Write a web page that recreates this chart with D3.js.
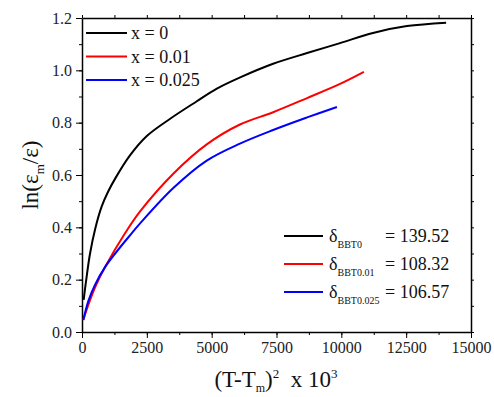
<!DOCTYPE html>
<html>
<head>
<meta charset="utf-8">
<script src="https://cdn.jsdelivr.net/npm/d3@7"></script>
<style>
   body { margin: 0; background: #fff; }
   svg text { font-family: "Liberation Serif", "Times New Roman", "DejaVu Serif", serif; }
</style>
</head>
<body>
<div id="chart"></div>
<script>
// Series values: [x, ln(em/e)]
const seriesNames = ["x = 0", "x = 0.01", "x = 0.025"]
const seriesColors = ["#000000", "#ff0000", "#0000ff"]

const blackData = [[64,0.123],[150,0.19],[310,0.30],[510,0.395],[760,0.48],[1000,0.535],[1300,0.59],
   [1850,0.675],[2500,0.749],[3400,0.815],[4400,0.880],[5200,0.93],[6100,0.973],[7370,1.025],
   [8680,1.066],[9950,1.104],[11220,1.143],[12530,1.169],[14040,1.182]]
const redData = [[50,0.046],[250,0.105],[500,0.17],[900,0.25],[1670,0.379],[2240,0.461],[3520,0.605],
   [4810,0.717],[6090,0.793],[7370,0.840],[8680,0.894],[9950,0.948],[10870,0.994]]
const blueData = [[50,0.046],[250,0.12],[500,0.18],[900,0.25],[1930,0.379],[2240,0.415],[3520,0.55],
   [4810,0.655],[6090,0.72],[7370,0.772],[8680,0.82],[9830,0.86]]
const allSeries = [blackData, redData, blueData]

const deltaSubs = ["BBT0", "BBT0.01", "BBT0.025"]
const deltaValues = ["= 139.52", "= 108.32", "= 106.57"]

const xTicks = [0, 2500, 5000, 7500, 10000, 12500, 15000]
const yTicks = [0.0, 0.2, 0.4, 0.6, 0.8, 1.0, 1.2]

const serif = "'Liberation Serif', 'Times New Roman', 'DejaVu Serif', serif"
const width = 494, height = 397
const margin = {left: 82, right: 23, top: 18, bottom: 65}

const svg = d3.select("#chart").append("svg")
   .attr("width", width)
   .attr("height", height)

const x = d3.scaleLinear().domain([0, 15000]).range([margin.left, width - margin.right])
const y = d3.scaleLinear().domain([0, 1.2]).range([height - margin.bottom, margin.top])

const minorX = d3.range(0, 15001, 1250)
const minorY = d3.range(0, 1.21, 0.1)

// bottom axis
svg.append("g")
   .attr("transform", "translate(0," + y(0) + ")")
   .call(d3.axisBottom(x).tickValues(xTicks).tickSize(6).tickSizeOuter(0).tickPadding(4).tickFormat(d3.format("d")))
   .call(g => g.selectAll("text").attr("font-size", 16).style("font-family", serif).attr("fill", "#222"))
svg.append("g")
   .attr("transform", "translate(0," + y(0) + ")")
   .call(d3.axisBottom(x).tickValues(minorX).tickSize(3).tickFormat(""))
   .call(g => g.select(".domain").remove())

// left axis
svg.append("g")
   .attr("transform", "translate(" + x(0) + ",0)")
   .call(d3.axisLeft(y).tickValues(yTicks).tickSize(6).tickSizeOuter(0).tickPadding(4).tickFormat(d3.format(".1f")))
   .call(g => g.selectAll("text").attr("font-size", 16).style("font-family", serif).attr("fill", "#222"))
svg.append("g")
   .attr("transform", "translate(" + x(0) + ",0)")
   .call(d3.axisLeft(y).tickValues(minorY).tickSize(3).tickFormat(""))
   .call(g => g.select(".domain").remove())

// top and right axes, ticks only
svg.append("g")
   .attr("transform", "translate(0," + y(1.2) + ")")
   .call(d3.axisTop(x).tickValues(minorX).tickSize(3).tickSizeOuter(0).tickFormat(""))
svg.append("g")
   .attr("transform", "translate(" + x(15000) + ",0)")
   .call(d3.axisRight(y).tickValues(minorY).tickSize(3).tickSizeOuter(0).tickFormat(""))

svg.selectAll(".domain").attr("stroke-width", 1.5)

// curves
const line = d3.line()
   .x(d => x(d[0]))
   .y(d => y(d[1]))
   .curve(d3.curveCatmullRom.alpha(0.5))

svg.selectAll("path.series").data(allSeries)
   .enter().append("path")
      .attr("class", "series")
      .attr("fill", "none")
      .attr("stroke", (d, i) => seriesColors[i])
      .attr("stroke-width", 2)
      .attr("d", line)

// legend top-left
const leg = svg.append("g")
seriesNames.forEach(function(name, i) {
   let ly = 33 + i * 23.5
   leg.append("line")
      .attr("x1", 86).attr("x2", 127).attr("y1", ly).attr("y2", ly)
      .attr("stroke", seriesColors[i]).attr("stroke-width", 2)
   leg.append("text")
      .attr("x", 131).attr("y", ly + 6)
      .attr("font-size", 18)
      .attr("fill", "#111")
      .text(name)
})

// delta legend
const leg2 = svg.append("g")
deltaSubs.forEach(function(sub, i) {
   let ly = 236 + i * 28
   leg2.append("line")
      .attr("x1", 284).attr("x2", 323).attr("y1", ly).attr("y2", ly)
      .attr("stroke", seriesColors[i]).attr("stroke-width", 2)
   let t = leg2.append("text")
      .attr("x", 329).attr("y", ly + 6)
      .attr("font-size", 18)
      .attr("fill", "#111")
   t.append("tspan").text("δ")
   t.append("tspan").attr("font-size", 10).attr("dy", 6).text(sub)
   leg2.append("text")
      .attr("x", 385).attr("y", ly + 6)
      .attr("font-size", 18)
      .attr("fill", "#111")
      .text(deltaValues[i])
})

// axis titles
const xt = svg.append("text")
   .attr("x", 276).attr("y", 387)
   .attr("text-anchor", "middle")
   .attr("font-size", 23)
   .attr("fill", "#111")
xt.append("tspan").text("(T-T")
xt.append("tspan").attr("font-size", 12).attr("dy", 5).text("m")
xt.append("tspan").attr("dy", -5).text(")")
xt.append("tspan").attr("font-size", 13).attr("dy", -9).text("2")
xt.append("tspan").attr("dy", 9).text("\u00a0\u00a0x 10")
xt.append("tspan").attr("font-size", 13).attr("dy", -9).text("3")

const yt = svg.append("text")
   .attr("transform", "translate(38," + y(0.6) + ") rotate(-90)")
   .attr("text-anchor", "middle")
   .attr("font-size", 23)
   .attr("fill", "#111")
yt.append("tspan").text("ln(ε")
yt.append("tspan").attr("font-size", 13).attr("dy", 6).text("m")
yt.append("tspan").attr("dy", -6).text("/ε)")
</script>
</body>
</html>
